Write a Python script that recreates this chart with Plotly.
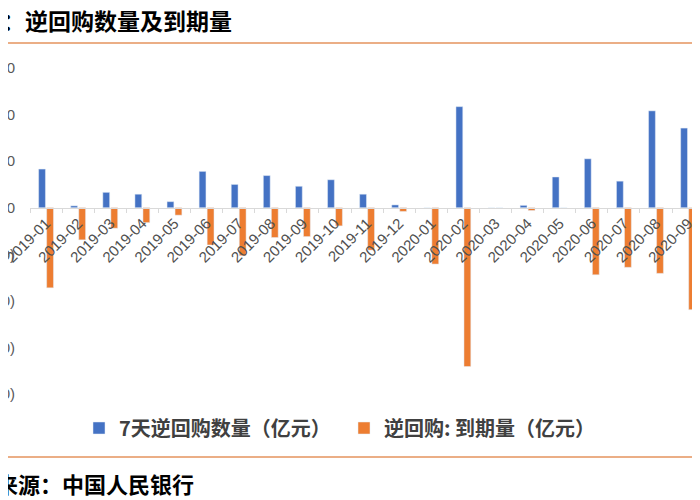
import plotly.graph_objects as go

# monthly categories and values (亿元)
months = [
    "2019-01", "2019-02", "2019-03", "2019-04", "2019-05", "2019-06",
    "2019-07", "2019-08", "2019-09", "2019-10", "2019-11", "2019-12",
    "2020-01", "2020-02", "2020-03", "2020-04", "2020-05", "2020-06",
    "2020-07", "2020-08", "2020-09",
]
repo_7d = [4150, 200, 1650, 1450, 650, 3900, 2500, 3450, 2300, 3000, 1450, 300,
           0, 10850, 0, 250, 3300, 5250, 2850, 10400, 8550]
maturity = [-8600, -3450, -2200, -1600, -800, -4000, -5150, -3200, -3100, -1950, -4550, -400,
            -6050, -17050, 0, -300, 0, -7200, -6400, -7050, -10950]

y_ticks = [-20000, -15000, -10000, -5000, 0, 5000, 10000, 15000]
y_tick_text = ["(20,000)", "(15,000)", "(10,000)", "(5,000)", "0", "5,000", "10,000", "15,000"]

title_text = "：逆回购数量及到期量"
source_text = "来源：中国人民银行"

BLUE = "#4472C4"
ORANGE = "#ED7D31"
RULE = "#EBAE86"
CJK = "Noto Sans CJK SC"
LATIN = "Liberation Sans, Noto Sans CJK SC"

fig = go.Figure()
fig.add_trace(go.Bar(name="7天逆回购数量（亿元）", x=months, y=repo_7d, marker_color=BLUE))
fig.add_trace(go.Bar(name="逆回购: 到期量（亿元）", x=months, y=maturity, marker_color=ORANGE))

y_lo, y_hi = y_ticks[0], y_ticks[-1]
zero_pos = (0 - y_lo) / (y_hi - y_lo)

# the page puts the figure 8px in from the window corner, so work in window pixels
OFF = 8
W, H = 700, 500
L, T = 30 - OFF, 68 - OFF          # plot area top-left on screen: (30, 68)
R, B = 0, H - (394 - OFF)          # plot bottom on screen: 394
ph = H - T - B
pw = W - L - R


def py(screen_y):
    return (H - B - (screen_y - OFF)) / ph


def px(screen_x):
    return (screen_x - OFF - L) / pw


fig.update_layout(
    width=W,
    height=H,
    margin=dict(l=L, r=R, t=T, b=B),
    paper_bgcolor="white",
    plot_bgcolor="white",
    barmode="group",
    bargap=0.5,
    bargroupgap=0.15,
    xaxis=dict(
        type="category",
        range=[-0.5, 20.62],
        anchor="free",
        position=zero_pos,
        showline=True,
        linecolor="#d9d9d9",
        linewidth=1,
        ticks="outside",
        tickson="boundaries",
        ticklen=4,
        tickcolor="#d9d9d9",
        tickangle=-45,
        tickfont=dict(family=LATIN, size=15, color="#505050"),
        showgrid=False,
        automargin=False,
    ),
    yaxis=dict(
        range=[y_lo, y_hi],
        tickvals=y_ticks,
        ticktext=y_tick_text,
        tickfont=dict(family=LATIN, size=15, color="#595959"),
        ticklabelstandoff=14,
        showgrid=False,
        zeroline=False,
        showline=False,
        automargin=False,
    ),
    legend=dict(
        orientation="h",
        x=px(79),
        xanchor="left",
        y=py(428),
        yanchor="middle",
        entrywidth=220,
        entrywidthmode="pixels",
        font=dict(family=CJK, size=20, color="#404040", weight="bold"),
        bgcolor="rgba(0,0,0,0)",
    ),
    showlegend=True,
)

fig.add_annotation(
    text=title_text, xref="paper", yref="paper", x=px(0), y=py(20),
    xanchor="left", yanchor="middle", showarrow=False,
    font=dict(family=CJK, size=23, color="black", weight="bold"),
)
fig.add_annotation(
    text=source_text, xref="paper", yref="paper", x=px(-6), y=py(483),
    xanchor="left", yanchor="middle", showarrow=False,
    font=dict(family=CJK, size=22, color="black", weight="bold"),
)

for yy in (43, 457):
    fig.add_shape(
        type="line", xref="paper", yref="paper",
        x0=px(-10), x1=px(710), y0=py(yy), y1=py(yy),
        line=dict(color=RULE, width=2),
    )

fig.write_html("out.html")
